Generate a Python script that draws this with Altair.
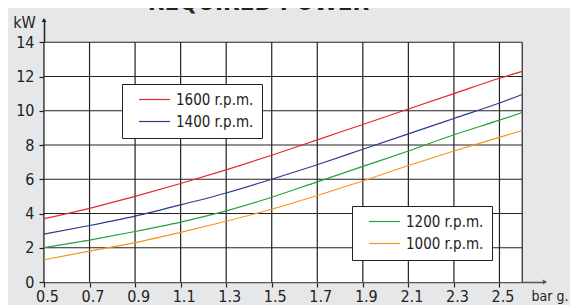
import altair as alt
import pandas as pd

# ---- data ----
pressure = [0.5, 0.7, 0.9, 1.1, 1.3, 1.5, 1.7, 1.9, 2.1, 2.3, 2.5, 2.6]
kw_1600 = [3.7, 4.3, 5.0, 5.75, 6.55, 7.4, 8.3, 9.2, 10.1, 11.0, 11.9, 12.3]
kw_1400 = [2.8, 3.3, 3.85, 4.5, 5.2, 6.0, 6.85, 7.75, 8.65, 9.55, 10.45, 10.95]
kw_1200 = [2.0, 2.45, 2.95, 3.5, 4.15, 4.95, 5.85, 6.75, 7.65, 8.6, 9.45, 9.9]
kw_1000 = [1.3, 1.8, 2.3, 2.9, 3.55, 4.25, 5.05, 5.9, 6.8, 7.65, 8.45, 8.85]

names_a = ["1600 r.p.m.", "1400 r.p.m."]
names_b = ["1200 r.p.m.", "1000 r.p.m."]
colors_a = ["#e8262c", "#2e3a8f"]
colors_b = ["#22a33b", "#f7941d"]

x_ticks = [0.5, 0.7, 0.9, 1.1, 1.3, 1.5, 1.7, 1.9, 2.1, 2.3, 2.5]
y_ticks = [0, 2, 4, 6, 8, 10, 12, 14]
x_grid_end = 2.6
y_grid_end = 14
x_axis_end = 2.7
y_axis_end = 15.3

FONT = "DejaVu Sans Condensed, Liberation Sans Narrow, sans-serif"
INK = "#222222"

# ---- tables ----
rows_a = []
for name, vals in zip(names_a, [kw_1600, kw_1400]):
    rows_a += [{"x": p, "y": v, "s": name} for p, v in zip(pressure, vals)]
rows_b = []
for name, vals in zip(names_b, [kw_1200, kw_1000]):
    rows_b += [{"x": p, "y": v, "s": name} for p, v in zip(pressure, vals)]
df_a = pd.DataFrame(rows_a)
df_b = pd.DataFrame(rows_b)

vgrid = pd.DataFrame({"x": x_ticks + [x_grid_end], "y": 0, "y2": y_grid_end})
hgrid = pd.DataFrame({"y": y_ticks[1:], "x": x_ticks[0], "x2": x_grid_end})
panel = pd.DataFrame({"x": [x_ticks[0]], "x2": [x_grid_end], "y": [0], "y2": [y_grid_end]})
arrow_x = pd.DataFrame({"x": [x_axis_end], "y": [0]})
arrow_y = pd.DataFrame({"x": [x_ticks[0]], "y": [y_axis_end]})

xs = alt.Scale(domain=[x_ticks[0], x_axis_end], nice=False, zero=False)
ys = alt.Scale(domain=[0, y_axis_end], nice=False, zero=False)

x_axis = alt.Axis(values=x_ticks, format=".1f", grid=False, domainColor="#555", domainWidth=1.5,
                  tickColor=INK, tickSize=5, tickWidth=1.2, labelFont=FONT, labelFontSize=16,
                  labelColor=INK, labelPadding=1, labelOffset=3, labelFlush=False, title="bar g.",
                  titleFont=FONT, titleFontSize=14, titleFontWeight="normal", titleColor=INK,
                  titleX=487, titleY=18, titleAlign="left", titleBaseline="alphabetic")
y_axis = alt.Axis(values=y_ticks, grid=False, domainColor=INK, domainWidth=1.5, tickColor=INK,
                  tickSize=5, tickWidth=1.2, labelFont=FONT, labelFontSize=16, labelColor=INK,
                  labelPadding=5, labelFlush=False, title="kW", titleAngle=0, titleFont=FONT,
                  titleFontSize=16, titleFontWeight="normal", titleColor=INK, titleX=-20,
                  titleY=7, titleAlign="center", titleBaseline="alphabetic")

X = alt.X("x:Q", scale=xs, axis=x_axis)
Y = alt.Y("y:Q", scale=ys, axis=y_axis)

base_panel = alt.Chart(panel).mark_rect(color="white").encode(x=X, x2="x2", y=Y, y2="y2")
vlines = alt.Chart(vgrid).mark_rule(color=INK, strokeWidth=1.2).encode(x=X, y=Y, y2="y2")
hlines = alt.Chart(hgrid).mark_rule(color=INK, strokeWidth=1.2).encode(y=Y, x=X, x2="x2")


def legend(x, y):
    return alt.Legend(orient="none", legendX=x, legendY=y, title=None, fillColor="white",
                      strokeColor=INK, padding=8, symbolType="M-3.1,0L3.1,0", symbolSize=100,
                      symbolStrokeWidth=1.2, symbolOffset=17, labelOffset=14, labelFont=FONT,
                      labelFontSize=15, labelColor=INK, rowPadding=6, direction="vertical")


lines_a = alt.Chart(df_a).mark_line(strokeWidth=1.2, interpolate="monotone").encode(
    x=X, y=Y,
    color=alt.Color("s:N", scale=alt.Scale(domain=names_a, range=colors_a), legend=legend(78, 64)),
    detail="s:N")
lines_b = alt.Chart(df_b).mark_line(strokeWidth=1.2, interpolate="monotone").encode(
    x=X, y=Y,
    stroke=alt.Stroke("s:N", scale=alt.Scale(domain=names_b, range=colors_b), legend=legend(308, 186)),
    detail="s:N")

arr_x = alt.Chart(arrow_x).mark_point(shape="triangle-right", filled=True, color="#555", size=24, opacity=1).encode(x=X, y=Y)
arr_y = alt.Chart(arrow_y).mark_point(shape="triangle-up", filled=True, color=INK, size=24, opacity=1).encode(x=X, y=Y)

chart = alt.layer(base_panel, vlines, hlines, lines_a, lines_b, arr_x, arr_y).resolve_scale(
    color="independent", stroke="independent"
).properties(
    width=501, height=262,
    autosize=alt.AutoSizeParams(type="none"),
    padding={"left": 36, "top": 12, "right": 25, "bottom": 23},
    background="#e6e7e9",
    title=alt.TitleParams("REQUIRED POWER", font=FONT, fontSize=24, fontWeight="bold",
                          color=INK, anchor="middle", dx=-36, offset=-1),
).configure_view(stroke=None)

chart.save("out.html", embed_options={"renderer": "svg", "actions": False})
